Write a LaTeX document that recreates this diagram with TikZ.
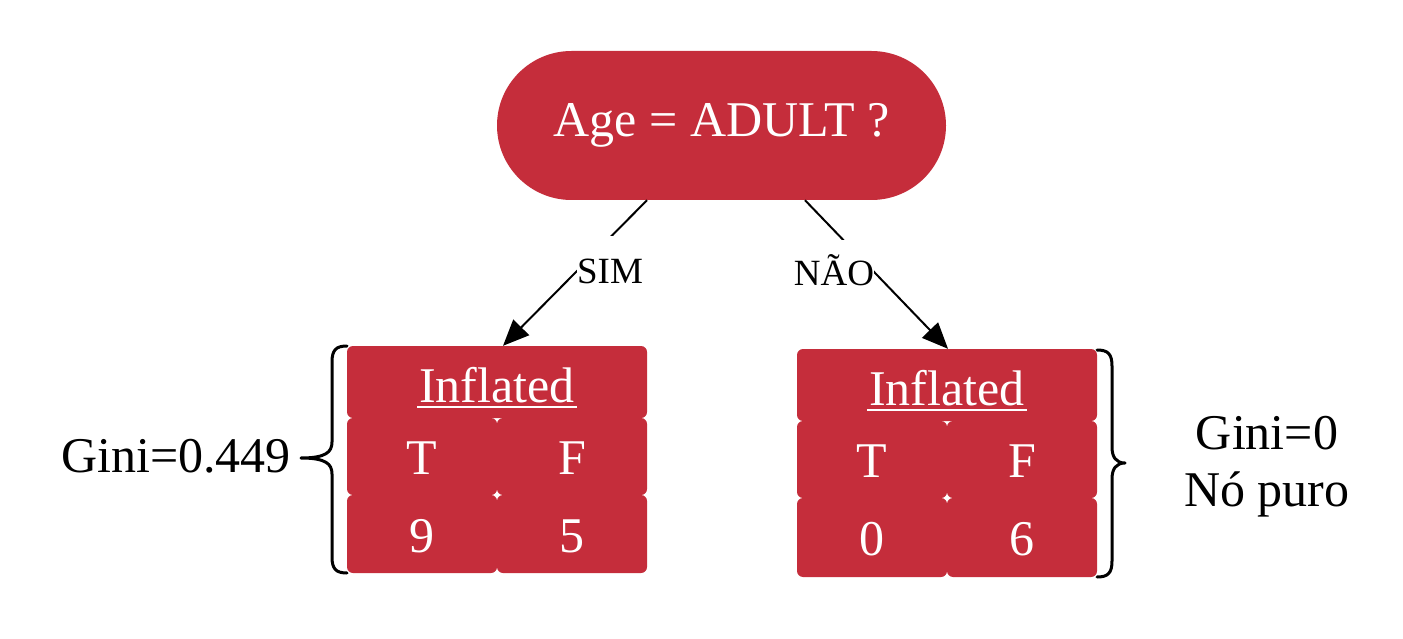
\documentclass[tikz,border=0pt]{standalone}
\usepackage{fontspec}
\setmainfont{Liberation Serif}
\usetikzlibrary{arrows.meta,calc}
\definecolor{cellred}{RGB}{197,45,59}
\newcommand\myul[1]{\setbox0\hbox{#1}\rlap{\hspace{-2pt}\rule[-6pt]{\dimexpr\wd0+4pt\relax}{2.5pt}}\box0}
\begin{document}
\begin{tikzpicture}[x=1pt,y=-1pt,
  big/.style={font=\fontsize{50}{57}\selectfont},
  small/.style={font=\fontsize{37}{43}\selectfont},
  cell/.style={big,fill=cellred,text=white,rounded corners=6pt,inner sep=0pt,minimum width=150pt,text height=36pt,text depth=0pt},
  headcell/.style={cell,minimum width=300pt,minimum height=72pt,text height=40pt},
  conn/.style={line width=2pt,-{Triangle[length=26pt,width=22pt]}},
  lbl/.style={small,fill=white,inner sep=0pt},
  brace/.style={line width=3pt,line cap=round,line join=round}]
\useasboundingbox (0,0) rectangle (1403,639);
% root
\node[big,fill=cellred,text=white,rounded corners=74.5pt,minimum width=449pt,minimum height=149pt,inner sep=0pt] (root) at (721.5,125.5) {Age = ADULT ?};
% left table
\node[headcell] (lh) at (497,382) {\myul{Inflated}};
\node[cell,minimum height=77pt] (lt) at (422,456.5) {T};
\node[cell,minimum height=77pt] (lf) at (572,456.5) {F};
\node[cell,minimum height=78pt] (lv1) at (422,534) {9};
\node[cell,minimum height=78pt] (lv2) at (572,534) {5};
% right table
\node[headcell] (rh) at (947,385) {\myul{Inflated}};
\node[cell,minimum height=77pt] (rt) at (872,459.5) {T};
\node[cell,minimum height=77pt] (rf) at (1022,459.5) {F};
\node[cell,minimum height=79pt] (rv1) at (872,537.5) {0};
\node[cell,minimum height=79pt] (rv2) at (1022,537.5) {6};
% connectors
\coordinate (ls) at ($(root.south)+(-74.5,0)$);
\coordinate (le) at ($(lh.north)+(6,0)$);
\coordinate (rs) at ($(root.south)+(83.5,0)$);
\coordinate (re) at ($(rh.north)+(1,0)$);
\draw[conn] (ls) -- (le);
\draw[conn] (rs) -- (re);
\node[lbl,minimum width=66pt,minimum height=70pt] (sim) at (610,271) {SIM};
\node[lbl,minimum width=78pt,minimum height=60pt] (nao) at (834,270) {NÃO};
% braces
\draw[brace] (347,346) .. controls (336,346) and (332,350) .. (332,362) -- (332,442)
  .. controls (332,452) and (326,458) .. (301,458)
  .. controls (326,458) and (332,464) .. (332,474) -- (332,557)
  .. controls (332,569) and (336,573) .. (347,573);
\draw[brace] (1097,350) .. controls (1108,350) and (1112,354) .. (1112,366) -- (1112,447)
  .. controls (1112,457) and (1116,463) .. (1125,463)
  .. controls (1116,463) and (1112,469) .. (1112,479) -- (1112,561)
  .. controls (1112,573) and (1108,577) .. (1097,577);
% gini labels
\node[big,inner sep=0pt] (gl) at (176,456) {Gini=0.449};
\node[big,inner sep=0pt,align=center] (gr) at (1267,467) {Gini=0\\Nó puro};
\end{tikzpicture}
\end{document}
